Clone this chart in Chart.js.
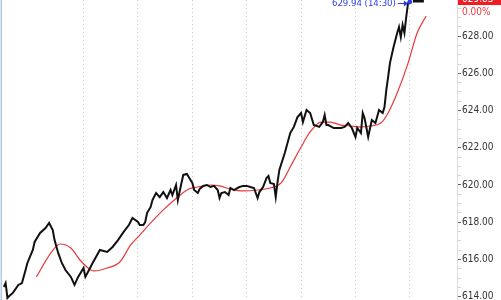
<!DOCTYPE html>
<html>
<head>
<meta charset="utf-8">
<title>Intraday</title>
<script src="https://cdn.jsdelivr.net/npm/chart.js@4/dist/chart.umd.min.js"></script>
<style>
	html,body{margin:0;padding:0;background:#fff;}
	#plot{display:block;}
</style>
</head>
<body>
<canvas id="plot" width="501" height="300"></canvas>
<script>
	// price (black)
	const priceTimes = ["10:46","10:47","10:48","10:49","10:51","10:54","10:56","10:58","10:59","11:02","11:03","11:06","11:09","11:11","11:13","11:14","11:16","11:18","11:20","11:23","11:25","11:27","11:30","11:31","11:33","11:35","11:39","11:43","11:46","11:49","11:52","11:55","11:57","12:00","12:01","12:03","12:04","12:05","12:07","12:08","12:10","12:12","12:14","12:16","12:18","12:19","12:21","12:22","12:24","12:25","12:27","12:28","12:29","12:30","12:31","12:33","12:34","12:36","12:38","12:40","12:42","12:44","12:45","12:46","12:48","12:50","12:51","12:53","12:55","12:56","12:58","13:00","13:02","13:04","13:06","13:07","13:09","13:11","13:12","13:13","13:15","13:16","13:17","13:18","13:21","13:24","13:26","13:28","13:30","13:31","13:33","13:35","13:37","13:40","13:42","13:43","13:44","13:45","13:48","13:52","13:54","13:56","13:58","14:00","14:01","14:03","14:04","14:05","14:07","14:09","14:11","14:13","14:15","14:16","14:17","14:18","14:19","14:21","14:23","14:24","14:25","14:26","14:27","14:28","14:29","14:30"];
	const prices = [614.52,614.73,613.93,614.03,614.20,614.63,614.73,615.43,615.81,616.51,616.94,617.42,617.69,617.96,617.58,617.04,616.35,615.81,615.43,615.06,614.63,615.06,615.54,615.06,615.43,615.81,616.51,616.40,616.67,617.04,617.47,617.85,618.23,618.01,617.85,617.85,618.01,618.49,618.82,619.19,619.57,619.35,619.62,619.30,619.73,619.46,620.00,619.19,620.11,620.54,620.59,620.43,620.27,620.11,619.73,619.57,619.78,619.95,620.00,619.89,619.95,619.73,619.30,619.57,619.62,619.46,619.84,619.73,619.84,619.89,619.95,619.95,619.89,619.84,619.30,619.62,619.89,620.38,620.48,620.11,620.05,619.35,620.16,620.81,621.72,622.79,623.12,623.65,623.87,623.38,624.03,623.87,623.22,623.12,623.38,623.76,623.22,623.22,623.06,623.06,623.12,623.33,623.06,622.58,623.06,622.79,623.87,623.60,622.58,623.49,623.33,624.03,623.87,624.19,625.10,625.80,626.55,627.41,628.17,628.49,627.95,628.60,628.17,629.03,629.78,629.94];

	// moving average (red), drawn shifted forward
	const maTimes = ["11:04","11:12","11:17","11:23","11:28","11:34","11:36","11:43","11:50","11:56","12:01","12:07","12:14","12:22","12:28","12:33","12:40","12:45","12:51","12:58","13:06","13:13","13:19","13:24","13:30","13:35","13:41","13:46","13:52","13:57","14:03","14:08","14:14","14:18","14:23","14:29","14:34","14:39"];
	const maValues = [615.06,616.35,616.83,616.61,615.97,615.43,615.38,615.54,615.86,616.78,617.31,617.96,618.66,619.35,619.78,619.89,620.00,619.95,619.78,619.68,619.73,619.84,620.11,620.97,622.04,622.85,623.38,623.38,623.22,623.17,623.12,623.17,623.33,623.87,624.94,626.55,628.17,629.08];

	const timeRange = ["10:45","14:56"];
	const gridTimes = ["11:30","12:00","12:30","13:00","13:30","14:00","14:30"];
	const priceRange = [613.82,629.94];
	const priceTicks = [614,614.5,615,615.5,616,616.5,617,617.5,618,618.5,619,619.5,620,620.5,621,621.5,622,622.5,623,623.5,624,624.5,625,625.5,626,626.5,627,627.5,628,628.5,629,629.5];

	const highLabel = "629.94 (14:30)";
	const highTime = "14:30";
	const highValue = 629.94;
	const closeLabel = "629.83";
	const closeValue = 629.83;
	const changeLabel = "0.00%";

	function mins(s){
		var p=s.split(":");
		return p[0]*60+p[1]*1;
	}
	const priceData = priceTimes.map((t,i)=>({x:mins(t),y:prices[i]}));
	const maData = maTimes.map((t,i)=>({x:mins(t),y:maValues[i]}));
	const axisFont = "'DejaVu Sans Condensed', 'DejaVu Sans', sans-serif";

	const extras = {
		id: 'extras',
		afterDraw(chart){
			const ctx = chart.ctx, a = chart.chartArea;
			const xs = chart.scales.x, ys = chart.scales.y;
			ctx.save();
			// left frame line
			ctx.fillStyle = '#b3c7e6';
			ctx.fillRect(0.5, 0, 1.5, chart.height);
			// high marker
			const hx = xs.getPixelForValue(mins(highTime));
			const hy = Math.max(ys.getPixelForValue(highValue), 2);
			ctx.fillStyle = '#111';
			ctx.fillRect(hx+3, 0, 11, 2.5);
			ctx.strokeStyle = '#2b3be8';
			ctx.fillStyle = '#2b3be8';
			ctx.lineWidth = 1;
			ctx.beginPath();
			ctx.moveTo(hx-12, hy+1.5); ctx.lineTo(hx-3, hy+1.5);
			ctx.stroke();
			ctx.beginPath();
			ctx.moveTo(hx-2, hy+1.5); ctx.lineTo(hx-6, hy-1.5); ctx.lineTo(hx-6, hy+4.5); ctx.closePath();
			ctx.fill();
			ctx.beginPath();
			ctx.arc(hx, hy, 2.3, 0, Math.PI*2);
			ctx.fill();
			ctx.font = "9.5px " + axisFont;
			ctx.textAlign = 'right';
			ctx.textBaseline = 'middle';
			ctx.fillText(highLabel, hx-14, hy+1.8);
			// close label on the axis
			const cy = ys.getPixelForValue(closeValue);
			ctx.fillStyle = '#ee1c24';
			ctx.fillRect(a.right+1, cy-10, chart.width-a.right, 13);
			ctx.fillStyle = '#fff';
			ctx.textAlign = 'left';
			ctx.font = "10px " + axisFont;
			ctx.fillText(closeLabel, a.right+5, cy-3);
			ctx.fillStyle = '#f03a3a';
			ctx.fillText(changeLabel, a.right+5, cy+10);
			ctx.restore();
		}
	};

	const config = {
		type: 'line',
		data: {
			datasets: [{
				label: 'Price',
				data: priceData,
				borderColor: '#111',
				borderWidth: 2,
				pointRadius: 0,
				tension: 0
			},{
				label: 'MA',
				data: maData,
				borderColor: '#e8393c',
				borderWidth: 1.2,
				pointRadius: 0,
				cubicInterpolationMode: 'monotone'
			}]
		},
		options: {
			responsive: false,
			animation: false,
			devicePixelRatio: 1,
			layout: {padding: {left: 2, top: 0, right: 0, bottom: 0}},
			plugins: {legend: {display: false}, tooltip: {enabled: false}},
			scales: {
				x: {
					type: 'linear',
					min: mins(timeRange[0]),
					max: mins(timeRange[1]),
					afterBuildTicks: s => { s.ticks = gridTimes.map(t=>({value: mins(t)})); },
					ticks: {display: false},
					grid: {color: '#c8c8c8', drawTicks: false, lineWidth: 1},
					border: {display: false, dash: [1,3]}
				},
				y: {
					position: 'right',
					min: priceRange[0],
					max: priceRange[1],
					afterBuildTicks: s => { s.ticks = priceTicks.map(v=>({value: v})); },
					afterFit: s => { s.width = 44; s.paddingTop = 0; s.paddingBottom = 0; },
					ticks: {
						autoSkip: false,
						padding: 1,
						color: '#333',
						font: {family: axisFont, size: 10},
						callback: v => (v % 2 === 0 ? v.toFixed(2) : '')
					},
					grid: {
						drawOnChartArea: false,
						tickLength: 4,
						tickColor: c => (c.tick && c.tick.value % 2 === 0 ? '#666' : '#d4d4d4')
					},
					border: {color: '#dcdcdc'}
				}
			}
		},
		plugins: [extras]
	};
	const myChart = new Chart(document.getElementById("plot"), config);
</script>
</body>
</html>
